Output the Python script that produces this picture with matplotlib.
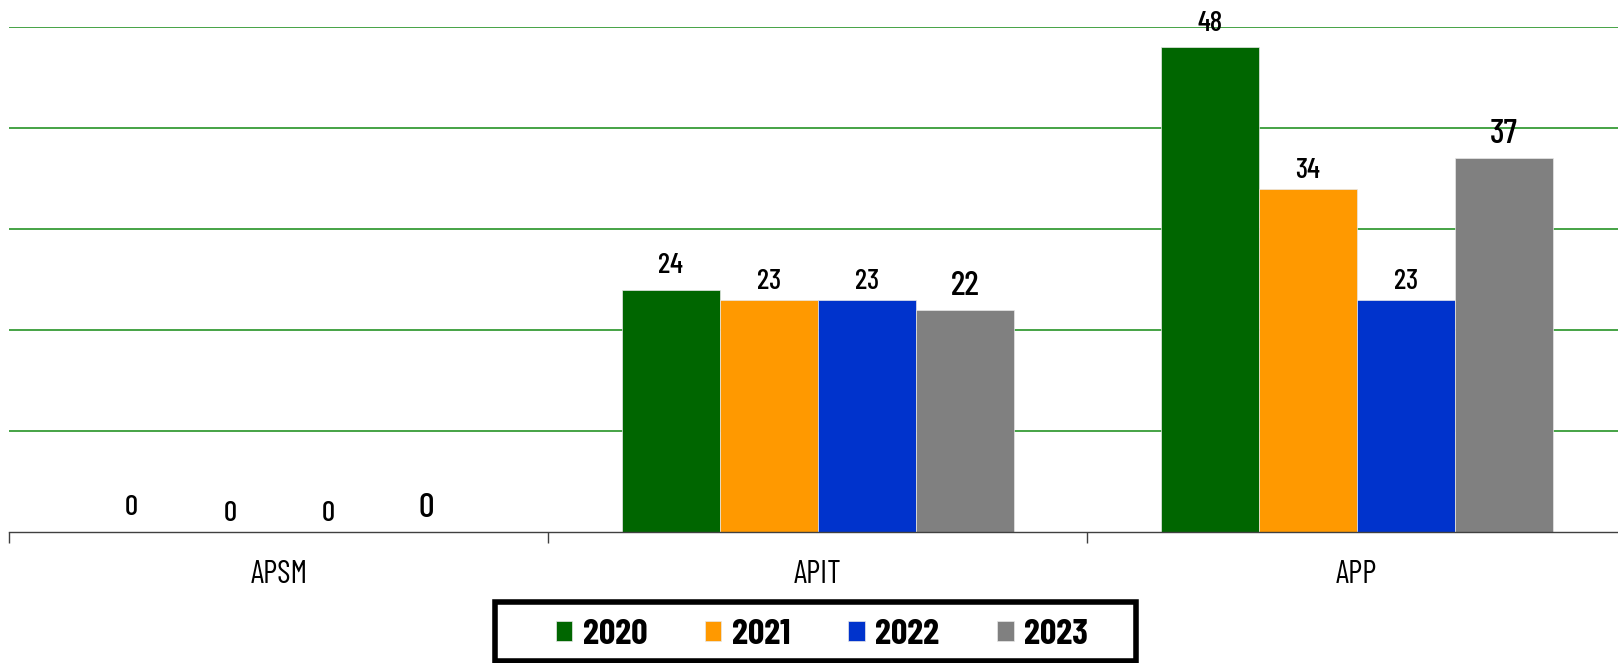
import matplotlib
matplotlib.use("Agg")
import matplotlib.pyplot as plt
from matplotlib.patches import Rectangle
import numpy as np

categories = ["APSM", "APIT", "APP"]
series_names = ["2020", "2021", "2022", "2023"]
values_2020 = [0, 24, 48]
values_2021 = [0, 23, 34]
values_2022 = [0, 23, 23]
values_2023 = [0, 22, 37]
colors = ["#006600", "#FF9900", "#0033CC", "#808080"]

plt.rcParams["font.family"] = ["Barlow Condensed", "DejaVu Sans"]

W, H = 1618, 663
fig = plt.figure(figsize=(W / 100, H / 100), dpi=100)
ax = fig.add_axes([9.3 / W, 1 - 532 / H, 3 * 539 / W, (532 - 27) / H])

all_vals = [values_2020, values_2021, values_2022, values_2023]
x = np.arange(len(categories))
bw = 0.182
label_sizes = [21, 21, 21, 25]
label_offsets = [17, 13, 13, 17]
for i, (vals, name, col) in enumerate(zip(all_vals, series_names, colors)):
    xs = x + (i - 1.5) * bw
    ax.bar(xs, vals, width=bw, color=col, label=name, zorder=3,
           edgecolor="#e8e8e8", linewidth=0.5)
    for xi, v in zip(xs, vals):
        ax.annotate(str(v), (xi, v), xytext=(0, label_offsets[i]),
                    textcoords="offset points", ha="center", va="center",
                    fontsize=label_sizes[i], fontweight=500, color="black",
                    zorder=5, annotation_clip=False)

ax.set_xlim(-0.5, 2.5)
ax.set_ylim(0, 50)
ax.set_yticks([10, 20, 30, 40, 50])
ax.yaxis.grid(True, color="#138a13", linewidth=1.1, zorder=0)
ax.tick_params(axis="y", left=False, labelleft=False)
for s in ["top", "right", "left"]:
    ax.spines[s].set_visible(False)
ax.spines["bottom"].set_color("#404040")
ax.spines["bottom"].set_linewidth(1.0)
ax.spines["bottom"].set_zorder(4)

ax.set_xticks(x)
ax.set_xticklabels(categories, fontsize=23)
ax.tick_params(axis="x", which="major", length=0, pad=20)
ax.set_xticks([-0.5, 0.5, 1.5, 2.5], minor=True)
ax.tick_params(axis="x", which="minor", length=8, width=1.0, color="#404040")

leg = fig.legend(loc="center", bbox_to_anchor=(822 / W, 1 - 635 / H),
                 ncol=4, frameon=False,
                 prop={"weight": "bold", "size": 26}, handlelength=0.45,
                 handleheight=0.45, handletextpad=0.3, columnspacing=1.6,
                 borderpad=0.0, borderaxespad=0)
fig.patches.append(Rectangle((495 / W, 2 / H), (1136 - 495) / W, (661 - 600 - 2) / H,
                             transform=fig.transFigure, fill=False,
                             edgecolor="black", linewidth=4, zorder=10))

fig.savefig("out.png", dpi=100, facecolor="white")
